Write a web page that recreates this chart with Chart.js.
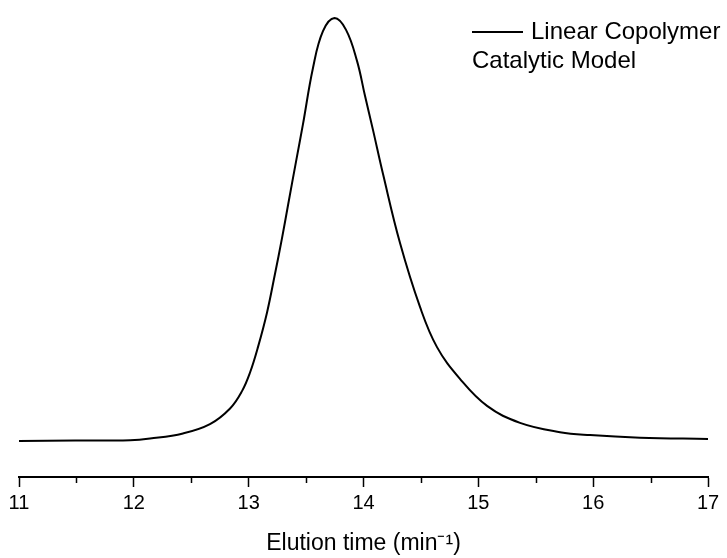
<!DOCTYPE html>
<html>
<head>
<meta charset="utf-8">
<script src="https://cdn.jsdelivr.net/npm/chart.js@4/dist/chart.umd.min.js"></script>
<style>
    html, body { margin: 0; padding: 0; background: #fff; }
    #wrap { width: 727px; height: 558px; }
</style>
</head>
<body>
<div id="wrap"><canvas id="gpcChart" width="727" height="558"></canvas></div>
<script>
// GPC trace (signal normalised to peak = 1)
const elutionTime = [11.000, 11.488, 11.967, 12.141, 12.428, 12.663, 12.838, 12.942, 13.012, 13.081,
    13.160, 13.229, 13.290, 13.343, 13.412, 13.473, 13.560, 13.647, 13.748, 13.848, 13.944, 14.013,
    14.083, 14.170, 14.318, 14.492, 14.640, 14.840, 15.076, 15.363, 15.711, 15.973, 16.408, 17.000];
const signal = [0.000, 0.001, 0.002, 0.006, 0.018, 0.040, 0.077, 0.118, 0.162, 0.222,
    0.304, 0.395, 0.479, 0.558, 0.660, 0.749, 0.882, 0.969, 1.000, 0.972, 0.898, 0.816,
    0.735, 0.631, 0.468, 0.317, 0.222, 0.147, 0.083, 0.043, 0.021, 0.014, 0.008, 0.005];

const majorTicks = [11, 12, 13, 14, 15, 16, 17];
const minorTicks = [11.5, 12.5, 13.5, 14.5, 15.5, 16.5];
const legendLines = ["Linear Copolymer", "Catalytic Model"];
const axisTitle = "Elution time (min\u207B\u00B9)";

const FONT = "'Liberation Sans', Arial, Helvetica, sans-serif";

// minor ticks are shorter than the major ones, so they are drawn here
const minorTickPlugin = {
    id: "minorTicks",
    afterDraw(chart) {
        const ctx = chart.ctx;
        const xScale = chart.scales.x;
        const y0 = chart.chartArea.bottom;
        ctx.save();
        ctx.strokeStyle = "#000";
        ctx.lineWidth = 1.5;
        minorTicks.forEach(v => {
            const px = Math.round(xScale.getPixelForValue(v)) + 0.5;
            ctx.beginPath();
            ctx.moveTo(px, y0);
            ctx.lineTo(px, y0 + 6);
            ctx.stroke();
        });
        ctx.restore();
    }
};

// legend: line sample + label wrapped onto two lines
const wrappedLegendPlugin = {
    id: "wrappedLegend",
    afterDraw(chart) {
        const ctx = chart.ctx;
        const ds = chart.data.datasets[0];
        const x = 472, y = 32, sample = 51, lineGap = 29;
        ctx.save();
        ctx.strokeStyle = ds.borderColor;
        ctx.lineWidth = 2;
        ctx.beginPath();
        ctx.moveTo(x, y);
        ctx.lineTo(x + sample, y);
        ctx.stroke();
        ctx.fillStyle = "#000";
        ctx.font = "24px " + FONT;
        ctx.textBaseline = "middle";
        ctx.fillText(legendLines[0], x + sample + 8, y);
        ctx.fillText(legendLines[1], x, y + lineGap);
        ctx.restore();
    }
};

new Chart(document.getElementById("gpcChart"), {
    type: "line",
    data: {
        datasets: [{
            label: legendLines.join(" "),
            data: elutionTime.map((t, i) => ({ x: t, y: signal[i] })),
            borderColor: "#000",
            borderWidth: 2,
            pointRadius: 0,
            fill: false,
            tension: 0.4,
            clip: false,
        }],
    },
    options: {
        responsive: false,
        animation: false,
        layout: {
            padding: { left: 19, right: 19, top: 18, bottom: 0 },
        },
        plugins: {
            legend: { display: false },
            tooltip: { enabled: false },
        },
        scales: {
            x: {
                type: "linear",
                min: 11,
                max: 17,
                afterBuildTicks: scale => {
                    scale.ticks = majorTicks.map(v => ({ value: v }));
                },
                afterFit: scale => {
                    scale.height = 81;
                },
                ticks: {
                    autoSkip: false,
                    maxRotation: 0,
                    padding: 4,
                    color: "#000",
                    font: { family: FONT, size: 20 },
                },
                grid: {
                    drawOnChartArea: false,
                    drawTicks: true,
                    tickLength: 10,
                    tickColor: "#000",
                    tickWidth: 1.5,
                },
                border: {
                    display: true,
                    color: "#000",
                    width: 2,
                },
                title: {
                    display: true,
                    text: axisTitle,
                    color: "#000",
                    font: { family: FONT, size: 23 },
                    padding: { top: 4, bottom: 1 },
                },
            },
            y: {
                display: false,
                min: -0.085,
                max: 1.0,
            },
        },
    },
    plugins: [minorTickPlugin, wrappedLegendPlugin],
});
</script>
</body>
</html>
